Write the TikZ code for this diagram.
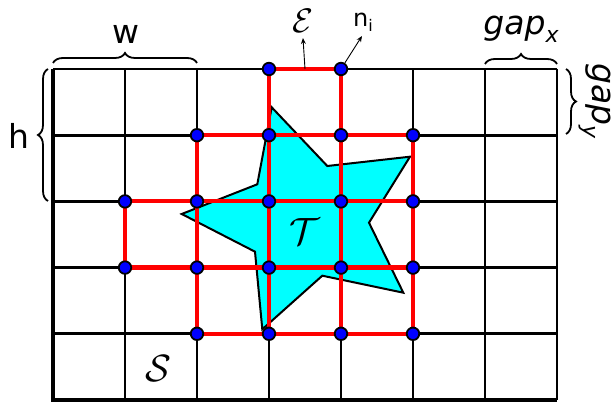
\documentclass[tikz,border=0pt]{standalone}
\usepackage{fix-cm}
\usepackage{fontspec}
\setmainfont{DejaVu Sans}
\usetikzlibrary{decorations.pathreplacing,arrows.meta}
\definecolor{aqua}{RGB}{0,255,255}
\definecolor{dotblue}{RGB}{0,0,255}
\definecolor{edgered}{RGB}{255,0,0}
\begin{document}
\begin{tikzpicture}[x=1pt,y=-1pt,
  gridline/.style={line width=2.8pt,black},
  borderline/.style={line width=3.8pt,black},
  redline/.style={line width=4.2pt,edgered},
  dot/.style={circle,fill=dotblue,draw=black,line width=1.8pt,minimum size=12.5pt,inner sep=0pt},
  starshape/.style={fill=aqua,draw=black,line width=2pt,line join=miter},
  bracestyle/.style={decorate,decoration={brace,amplitude=10pt},line width=1.8pt},
  ptr/.style={-{Stealth[length=6pt,width=5pt]},line width=0.9pt},
  big/.style={font=\fontsize{33}{36}\selectfont,inner sep=0pt},
  cal/.style={font=\fontsize{38}{40}\selectfont,inner sep=0pt},
  mid/.style={font=\fontsize{24}{26}\selectfont,inner sep=0pt}]
\useasboundingbox (0,0) rectangle (616,403);
% grid points
\foreach \i in {0,...,7}
  \foreach \j in {0,...,5}
    \coordinate (p\i\j) at ({53+72*\i},{69+66.2*\j});
% black grid
\foreach \i in {1,...,7} \draw[gridline] (p\i0) -- (p\i5);
\foreach \j in {0,...,4} \draw[gridline] (p0\j) -- (p7\j);
\draw[borderline] (p00) -- (p05) -- (p75);
% star T
\draw[starshape] (271.7,107.3) -- (327.3,166) -- (410,156.7) -- (369,222.7) -- (403.3,292.7)
  -- (322.3,275.7) -- (262.3,329.3) -- (255,251.7) -- (181.7,214) -- (257.3,184.3) -- cycle;
\node[cal] (T) at (305,232) {$\mathcal{T}$};
% red edges
\draw[redline] (p30) -- (p40);
\draw[redline] (p21) -- (p51);
\draw[redline] (p12) -- (p52);
\draw[redline] (p13) -- (p53);
\draw[redline] (p24) -- (p54);
\draw[redline] (p30) -- (p34);
\draw[redline] (p40) -- (p44);
\draw[redline] (p21) -- (p24);
\draw[redline] (p51) -- (p54);
\draw[redline] (p12) -- (p13);
% dots
\foreach \n in {30,40,21,31,41,51,12,22,32,42,52,13,23,33,43,53,24,34,44,54}
  \node[dot] (d\n) at (p\n) {};
% labels
\node[cal] (S) at (158,369) {$\mathcal{S}$};
\node[font=\fontsize{34}{36}\selectfont,inner sep=0pt] (E) at (303,21) {$\mathcal{E}$};
\path (p30) -- (p40) coordinate[pos=0.5] (emid);
\coordinate (etip) at (303,38);
\draw[ptr] (emid) -- (etip);
\node[mid,anchor=south west] (ni) at (353,32) {n\raisebox{-0.22em}{\fontsize{16}{18}\selectfont i}};
\coordinate (ntip) at (362,36);
\draw[ptr] (d40) -- (ntip);
% braces
\coordinate (wa) at (53,63); \coordinate (wb) at (197,63);
\draw[bracestyle] (wa) -- (wb);
\node[big] (w) at (126,34) {w};
\coordinate (ha) at (48,201); \coordinate (hb) at (48,69);
\draw[bracestyle] (ha) -- (hb);
\node[big] (h) at (19,136) {h};
\coordinate (gxa) at (485,64); \coordinate (gxb) at (557,64);
\draw[bracestyle] (gxa) -- (gxb);
\node[big] (gx) at (521,29) {\itshape gap\raisebox{-0.25em}{\fontsize{22}{24}\selectfont x}};
\coordinate (gya) at (566,69); \coordinate (gyb) at (566,134);
\draw[bracestyle] (gya) -- (gyb);
\node[big,rotate=-90] (gy) at (595,101) {\itshape gap\raisebox{-0.25em}{\fontsize{22}{24}\selectfont y}};
\end{tikzpicture}
\end{document}
